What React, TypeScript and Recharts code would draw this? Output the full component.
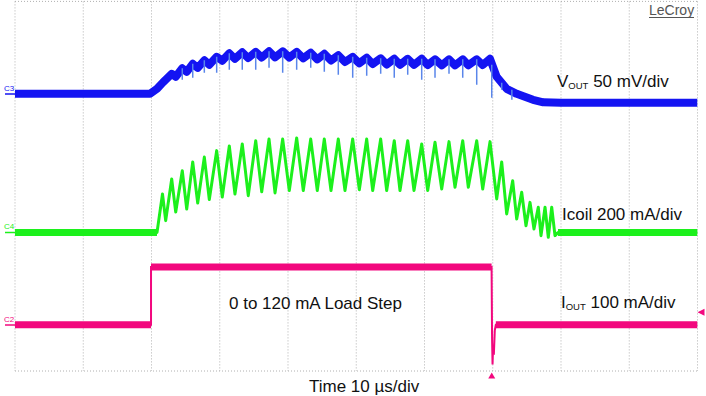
import {
  CartesianGrid,
  Line,
  LineChart,
  ReferenceDot,
  ReferenceLine,
  XAxis,
  YAxis,
} from "recharts";

// time in µs (10 µs/div)
// VOUT in mV, AC view (50 mV/div), Icoil in mA (200 mA/div), IOUT in mA (100 mA/div)
const voutTrace: [number, number][] = [
  [0, 0], [19.78, 0], [20.81, 5.4], [21.68, 12.4], [22.96, 21.6], [23.55, 18.4],
  [24.51, 27.6], [25.16, 23.8], [26.04, 32.5], [26.77, 28.1], [27.74, 36.2], [28.47, 31.4],
  [29.55, 40.0], [30.37, 35.7], [31.4, 43.8], [32.23, 37.9], [33.3, 44.9], [34.18, 38.7],
  [35.27, 45.4], [36.15, 39.3], [37.22, 46.0], [38.1, 39.5], [39.22, 46.0], [40.19, 39.3],
  [41.27, 45.4], [42.24, 38.4], [43.33, 44.4], [44.29, 37.3], [45.32, 43.3], [46.3, 36.0],
  [47.37, 41.7], [48.35, 34.4], [49.48, 40.0], [50.45, 33.0], [51.53, 39.0], [52.41, 32.2],
  [53.58, 38.4], [54.46, 31.7], [55.57, 37.9], [56.41, 31.4], [57.54, 37.9], [58.46, 31.4],
  [59.59, 37.9], [60.47, 31.2], [61.54, 37.3], [62.52, 30.8], [63.59, 37.3], [64.47, 30.8],
  [65.6, 37.3], [66.42, 30.8], [67.65, 37.3], [68.53, 31.2], [69.6, 37.9], [70.58, 18.4],
  [72.04, 5.4], [73.51, 0], [74.5, -2.7], [75.9, -6.5], [77.4, -9.2], [80.0, -9.7], [100, -9.7],
];

// switching spikes on VOUT: time, band level, spike tip
const voutSpikes: [number, number, number][] = [
  [24.51, 27.6, 15.1], [26.04, 32.5, 17.3], [27.74, 36.2, 22.7], [29.55, 40.0, 22.7],
  [31.4, 43.8, 26.0], [33.3, 44.9, 26.0], [35.27, 45.4, 26.0], [37.22, 46.0, 28.1],
  [39.22, 46.0, 22.7], [41.27, 45.4, 26.0], [43.33, 44.4, 28.1], [45.32, 43.3, 23.8],
  [47.37, 41.7, 20.6], [49.48, 40.0, 17.3], [51.53, 39.0, 19.5], [53.58, 38.4, 21.6],
  [55.57, 37.9, 17.3], [57.54, 37.9, 20.6], [59.59, 37.9, 15.1], [61.54, 37.3, 17.3],
  [63.59, 37.3, 21.6], [65.6, 37.3, 17.3], [67.65, 37.3, 9.7], [69.85, 31.4, -4.3],
  [71.31, 12.0, 4.3], [72.8, 4.3, -6.5],
];

const icoilTrace: [number, number][] = [
  [0, 0], [20.81, 0], [21.61, 166], [22.08, 51], [22.96, 231], [23.55, 88], [24.51, 267],
  [25.16, 101], [26.04, 305], [26.77, 127], [27.74, 326], [28.47, 142], [29.55, 354],
  [30.37, 153], [31.4, 374], [32.23, 166], [33.3, 383], [34.18, 159], [35.27, 397],
  [36.15, 176], [37.22, 404], [38.1, 171], [39.22, 404], [40.19, 181], [41.27, 409],
  [42.24, 181], [43.33, 404], [44.29, 181], [45.32, 404], [46.3, 181], [47.37, 404],
  [48.35, 181], [49.48, 404], [50.45, 185], [51.53, 404], [52.41, 181], [53.58, 404],
  [54.46, 181], [55.57, 397], [56.41, 181], [57.54, 397], [58.46, 181], [59.59, 383],
  [60.47, 181], [61.54, 390], [62.52, 188], [63.59, 393], [64.47, 195], [65.6, 397],
  [66.42, 195], [67.65, 397], [68.53, 188], [69.6, 393], [70.58, 145], [71.31, 305],
  [72.04, 80], [72.92, 224], [73.51, 58], [74.24, 174], [74.87, 29], [75.46, 130],
  [76.04, 15], [76.67, 109], [77.07, -14], [77.66, 109], [78.14, -21], [78.64, 109],
  [79.12, -14], [79.56, 0], [100, 0],
];

const ioutTrace: [number, number][] = [
  [0, 0], [19.93, 0], [19.93, 125], [69.83, 125], [69.9, -30], [69.97, -86], [70.06, -43],
  [70.16, -65], [70.3, -12], [70.45, 0], [100, 0],
];

const timeTicks = [0, 10, 20, 30, 40, 50, 60, 70, 80, 90, 100];
const divTicks = [0, 1, 2, 3, 4, 5, 6, 7, 8];
const triggerTime = 69.85;
const triggerLevel = 27;

const BLUE = "#1414f2";
const GREEN = "#1cf01c";
const MAGENTA = "#f2087e";
const GRID = "#b0b0b0";
const AXIS = "#9a9a9a";

const pts = (arr: [number, number][]) => arr.map(([t, v]) => ({ t, v }));

// flat stretches of a trace (drawn as a thick noisy band on the scope)
function flats(arr: [number, number][]) {
  const out: { t: number; v: number | null }[] = [];
  for (let i = 0; i < arr.length - 1; i++) {
    const [t0, v0] = arr[i];
    const [t1, v1] = arr[i + 1];
    if (v0 === v1 && t1 - t0 > 0.5) {
      out.push({ t: t0, v: v0 }, { t: t1, v: v1 }, { t: t1, v: null });
    }
  }
  return out;
}

const spikeData = voutSpikes.flatMap(([t, top, tip]) => [
  { t, v: top },
  { t, v: tip },
  { t, v: null },
]);

// minor ticks along the centre cross (0.2 div)
const minorTime = Array.from({ length: 49 }, (_, i) => (i + 1) * 2);
const minorDiv = Array.from({ length: 39 }, (_, i) => +((i + 1) * 0.2).toFixed(1));

const font = "'Liberation Sans', Arial, sans-serif";

export default function App() {
  return (
    <div style={{ position: "relative", width: 706, height: 396, background: "#fff" }}>
      <style>{"body{margin:0}"}</style>
      <LineChart width={706} height={396} margin={{ top: 1.4, right: 8.5, bottom: 25, left: 15 }}>
        <XAxis type="number" dataKey="t" domain={[0, 100]} ticks={timeTicks} hide allowDataOverflow />
        <YAxis yAxisId="div" type="number" domain={[0, 8]} ticks={divTicks} hide />
        <YAxis yAxisId="vout" type="number" domain={[-300, 100]} hide allowDataOverflow />
        <YAxis yAxisId="icoil" type="number" domain={[-600, 1000]} hide allowDataOverflow />
        <YAxis yAxisId="iout" type="number" domain={[-100, 700]} hide allowDataOverflow />
        <CartesianGrid yAxisId="div" stroke={GRID} strokeDasharray="1 2" />
        <ReferenceLine x={0} stroke={AXIS} strokeWidth={1.2} />
        <ReferenceLine x={100} stroke={AXIS} strokeWidth={1.2} />
        <ReferenceLine x={50} stroke={AXIS} strokeWidth={1.2} />
        <ReferenceLine yAxisId="div" y={0} stroke={AXIS} strokeWidth={1.2} />
        <ReferenceLine yAxisId="div" y={4} stroke={AXIS} strokeWidth={1.2} />
        {minorTime.map((t) => (
          <ReferenceLine
            key={`mt${t}`}
            yAxisId="div"
            segment={[{ x: t, y: 3.95 }, { x: t, y: 4.05 }]}
            stroke={AXIS}
          />
        ))}
        {minorDiv.map((d) => (
          <ReferenceLine
            key={`md${d}`}
            yAxisId="div"
            segment={[{ x: 49.65, y: d }, { x: 50.35, y: d }]}
            stroke={AXIS}
          />
        ))}
        <Line
          yAxisId="icoil"
          data={flats(icoilTrace)}
          dataKey="v"
          stroke={GREEN}
          strokeWidth={7}
          dot={false}
          isAnimationActive={false}
        />
        <Line
          yAxisId="icoil"
          data={pts(icoilTrace)}
          dataKey="v"
          stroke={GREEN}
          strokeWidth={3}
          strokeLinejoin="round"
          dot={false}
          isAnimationActive={false}
        />
        <Line
          yAxisId="iout"
          data={flats(ioutTrace)}
          dataKey="v"
          stroke={MAGENTA}
          strokeWidth={7}
          dot={false}
          isAnimationActive={false}
        />
        <Line
          yAxisId="iout"
          data={pts(ioutTrace)}
          dataKey="v"
          stroke={MAGENTA}
          strokeWidth={2}
          dot={false}
          isAnimationActive={false}
        />
        <Line
          yAxisId="vout"
          data={pts(voutTrace)}
          dataKey="v"
          stroke={BLUE}
          strokeWidth={8}
          strokeLinejoin="round"
          dot={false}
          isAnimationActive={false}
        />
        <Line
          yAxisId="vout"
          data={spikeData}
          dataKey="v"
          stroke="#5a86ea"
          strokeWidth={1.5}
          dot={false}
          isAnimationActive={false}
        />
        <ReferenceDot
          yAxisId="iout"
          x={triggerTime}
          y={-100}
          ifOverflow="visible"
          shape={(p: any) => (
            <path d={`M${p.cx},${p.cy + 1.5} l-3.5,6 h7 z`} fill={MAGENTA} />
          )}
        />
        <ReferenceDot
          yAxisId="iout"
          x={100}
          y={triggerLevel}
          ifOverflow="visible"
          shape={(p: any) => (
            <path d={`M${p.cx},${p.cy} l7,-3.5 v7 z`} fill={MAGENTA} />
          )}
        />
      </LineChart>
      <svg
        width={706}
        height={396}
        style={{ position: "absolute", left: 0, top: 0, pointerEvents: "none" }}
        fontFamily={font}
      >
        <text x={649} y={15} fontSize={14} fill="#555">LeCroy</text>
        <line x1={649} x2={694} y1={17.5} y2={17.5} stroke="#555" strokeWidth={1} />

        <text x={557} y={87} fontSize={17} fill="#111">
          V<tspan fontSize={9.5} dy={2}>OUT</tspan>
          <tspan dy={-2}>{" 50 mV/div"}</tspan>
        </text>
        <text x={562} y={220} fontSize={17} fill="#111">Icoil 200 mA/div</text>
        <text x={561} y={308} fontSize={17} fill="#111">
          I<tspan fontSize={9.5} dy={2}>OUT</tspan>
          <tspan dy={-2}>{" 100 mA/div"}</tspan>
        </text>
        <text x={229} y={309} fontSize={17} fill="#111">0 to 120 mA Load Step</text>
        <text x={309} y={392} fontSize={17} fill="#111">Time 10 µs/div</text>

        <text x={4} y={91} fontSize={8} fill={BLUE}>C3</text>
        <line x1={5} x2={15} y1={94} y2={94} stroke={BLUE} strokeWidth={1.5} />
        <text x={4} y={229} fontSize={8} fill={GREEN}>C4</text>
        <line x1={5} x2={15} y1={232.5} y2={232.5} stroke={GREEN} strokeWidth={1.5} />
        <text x={4} y={322} fontSize={8} fill={MAGENTA}>C2</text>
        <line x1={5} x2={15} y1={325} y2={325} stroke={MAGENTA} strokeWidth={1.5} />
      </svg>
    </div>
  );
}
